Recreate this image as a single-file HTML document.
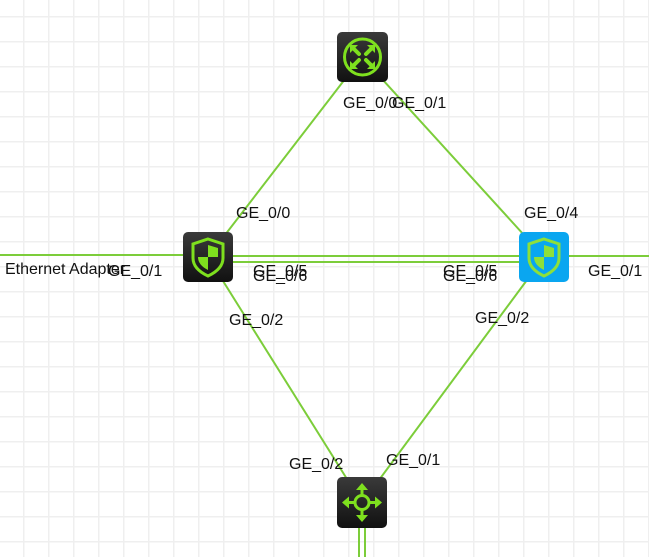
<!DOCTYPE html>
<html><head><meta charset="utf-8"><style>
html,body{margin:0;padding:0;background:#fff;width:649px;height:557px;overflow:hidden}
svg{display:block}
text{font-family:"Liberation Sans",Arial,sans-serif;font-size:16px;fill:#111}
</style></head><body>
<svg width="649" height="557" viewBox="0 0 649 557" xmlns="http://www.w3.org/2000/svg">
<defs>
<pattern id="g" x="23" y="16" width="25" height="25" patternUnits="userSpaceOnUse">
<path d="M0 0H25M0 0V25" stroke="#efefef" stroke-width="3" fill="none"/>
</pattern>
<linearGradient id="dk" x1="0" y1="0" x2="0" y2="1"><stop offset="0" stop-color="#3a3a3a"/><stop offset="1" stop-color="#111"/></linearGradient>
</defs>
<rect width="649" height="557" fill="#fff"/>
<rect width="649" height="557" fill="url(#g)"/>
<g stroke="#7ccd3a" stroke-width="2" fill="none">
<line x1="362" y1="57" x2="208" y2="257"/>
<line x1="362" y1="57" x2="544" y2="257"/>
<line x1="208" y1="257" x2="362" y2="503"/>
<line x1="544" y1="257" x2="362" y2="503"/>
<line x1="208" y1="256" x2="544" y2="256"/>
<line x1="208" y1="262" x2="544" y2="262"/>
<line x1="0" y1="255" x2="208" y2="255"/>
<line x1="544" y1="256" x2="649" y2="256"/>
<line x1="359" y1="503" x2="359" y2="557"/>
<line x1="365" y1="503" x2="365" y2="557"/>
</g>
<g transform="translate(337,32)">
<rect width="51" height="50" rx="5" fill="url(#dk)"/>
<circle cx="25.5" cy="25" r="18" stroke="#7ee01e" stroke-width="3" fill="none"/>
<g stroke="#7ee01e" stroke-width="4" fill="none" stroke-linecap="round">
<path d="M16 16 L22 22 M35 16 L29 22 M16 34 L22 28 M35 34 L29 28"/>
</g>
<g fill="#7ee01e">
<path d="M13 13 h8 l-8 8z M38 13 h-8 l8 8z M13 37 h8 l-8 -8z M38 37 h-8 l8 -8z"/>
</g>
</g>
<g transform="translate(183,232)">
<rect width="50" height="50" rx="5" fill="url(#dk)"/>
<path d="M25 7 L40 12 V26 Q40 37 25 44 Q10 37 10 26 V12 Z" stroke="#7ee01e" stroke-width="3" fill="none"/>
<path d="M25 13 L35 16 V25 H25Z M25 25 V38 Q15 33 15 25Z" fill="#7ee01e"/>
</g>
<g transform="translate(519,232)">
<rect width="50" height="50" rx="5" fill="#0aa6f0"/>
<path d="M25 7 L40 12 V26 Q40 37 25 44 Q10 37 10 26 V12 Z" stroke="#8ee03a" stroke-width="3" fill="none"/>
<path d="M25 13 L35 16 V25 H25Z M25 25 V38 Q15 33 15 25Z" fill="#8ee03a"/>
</g>
<g transform="translate(337,477)">
<rect width="50" height="51" rx="5" fill="url(#dk)"/>
<circle cx="25" cy="25.5" r="7" stroke="#7ee01e" stroke-width="3" fill="none"/>
<g stroke="#7ee01e" stroke-width="3" fill="none">
<path d="M25 18.5V10 M25 32.5V41 M18 25.5H9 M32 25.5H41"/>
</g>
<g fill="#7ee01e">
<path d="M25 6 l-6 7 h12z M25 45 l-6 -7 h12z M5 25.5 l7 -6 v12z M45 25.5 l-7 -6 v12z"/>
</g>
</g>
<text x="343" y="108">GE_0/0</text>
<text x="392" y="108">GE_0/1</text>
<text x="236" y="218">GE_0/0</text>
<text x="524" y="218">GE_0/4</text>
<text x="5" y="274">Ethernet Adapter</text>
<text x="108" y="276">GE_0/1</text>
<text x="253" y="276">GE_0/5</text>
<text x="253" y="281">GE_0/6</text>
<text x="443" y="276">GE_0/5</text>
<text x="443" y="281">GE_0/6</text>
<text x="588" y="276">GE_0/1</text>
<text x="229" y="325">GE_0/2</text>
<text x="475" y="323">GE_0/2</text>
<text x="289" y="469">GE_0/2</text>
<text x="386" y="465">GE_0/1</text>
</svg>
</body></html>
